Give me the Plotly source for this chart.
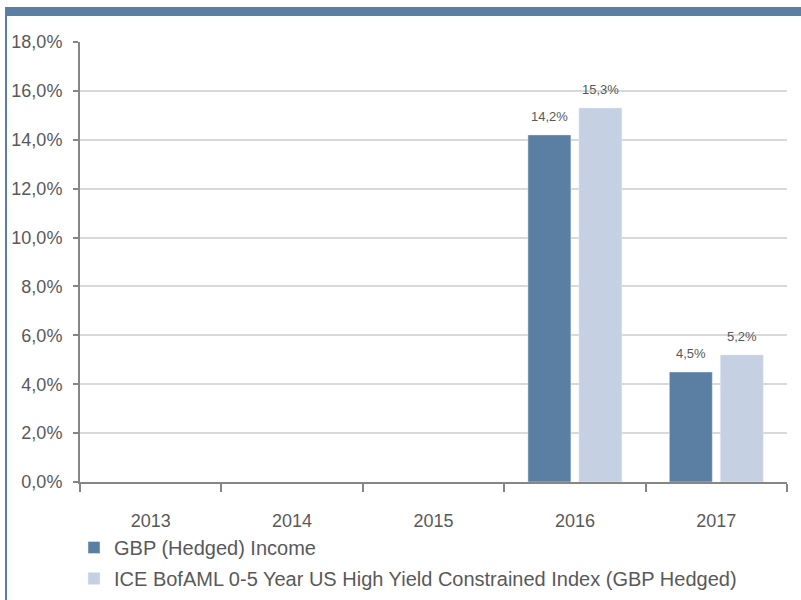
import plotly.graph_objects as go

years = ["2013", "2014", "2015", "2016", "2017"]
fund_name = "GBP (Hedged) Income"
index_name = "ICE BofAML 0-5 Year US High Yield Constrained Index (GBP Hedged)"
fund_values = [None, None, None, 14.2, 4.5]
index_values = [None, None, None, 15.3, 5.2]
y_ticks = [0, 2, 4, 6, 8, 10, 12, 14, 16, 18]

W, H = 801, 600
L, R, T, B = 80, 14, 42, 118
pw, ph = W - L - R, H - T - B

dark = "#5b7fa3"
light = "#c5d1e3"
grey = "#595959"
font = "Liberation Sans, Arial, sans-serif"

def fmt(v):
    return f"{v:.1f}".replace(".", ",") + "%"

fig = go.Figure()
fig.add_trace(go.Bar(x=years, y=fund_values, name=fund_name, marker_color=dark,
                     legendgroup="fund"))
fig.add_trace(go.Bar(x=years, y=index_values, name=index_name, marker_color=light,
                     legendgroup="index"))

bargap = 0.279
slot_px = pw / len(years) * (1 - bargap) / 2
annotations = []
for values, side in ((fund_values, -1), (index_values, 1)):
    for i, v in enumerate(values):
        if v is not None:
            annotations.append(dict(x=i, y=v, text=fmt(v), xshift=side * slot_px / 2,
                                    yshift=9, showarrow=False, yanchor="bottom",
                                    font=dict(size=13, color=grey, family=font)))

def px_x(p):
    return (p - L) / pw

def px_y(p):
    return (H - B - p) / ph

shapes = [
    dict(type="rect", xref="paper", yref="paper", x0=px_x(5), x1=px_x(W + 5),
         y0=px_y(16), y1=px_y(7), fillcolor=dark, line_width=0, layer="above"),
    dict(type="line", xref="paper", yref="paper", x0=px_x(6), x1=px_x(6),
         y0=px_y(7), y1=px_y(H + 5), line=dict(color=dark, width=2)),
]

fig.update_layout(
    width=W, height=H,
    margin=dict(l=L, r=R, t=T, b=B, pad=0, autoexpand=False),
    paper_bgcolor="white", plot_bgcolor="white",
    barmode="group", bargap=bargap, bargroupgap=0.157,
    font=dict(family=font, color=grey, size=18),
    showlegend=True,
    legend=dict(x=px_x(74), y=px_y(528), xanchor="left", yanchor="top",
                orientation="v", font=dict(size=20, color=grey, family=font),
                tracegroupgap=2, itemwidth=30, bgcolor="rgba(0,0,0,0)"),
    xaxis=dict(type="category", categoryorder="array", categoryarray=years,
               range=[-0.5, len(years) - 0.5],
               showline=True, linecolor="#868686", linewidth=2,
               ticks="outside", ticklen=8, tickcolor="#868686", tickwidth=1.5,
               tickson="boundaries", showgrid=False,
               tickfont=dict(size=18, color=grey), ticklabelstandoff=21),
    yaxis=dict(range=[0, 18], tickvals=y_ticks,
               ticktext=[fmt(v) for v in y_ticks],
               showline=True, linecolor="#868686", linewidth=2,
               ticks="outside", ticklen=5, tickcolor="#868686", tickwidth=1.5,
               showgrid=True, gridcolor="#d9d9d9", gridwidth=1.5,
               zeroline=False, tickfont=dict(size=18, color=grey),
               ticklabelstandoff=7),
    annotations=annotations,
    shapes=shapes,
)

fig.write_html("out.html", config={"displayModeBar": False},
               post_script="document.body.style.margin='0';")
